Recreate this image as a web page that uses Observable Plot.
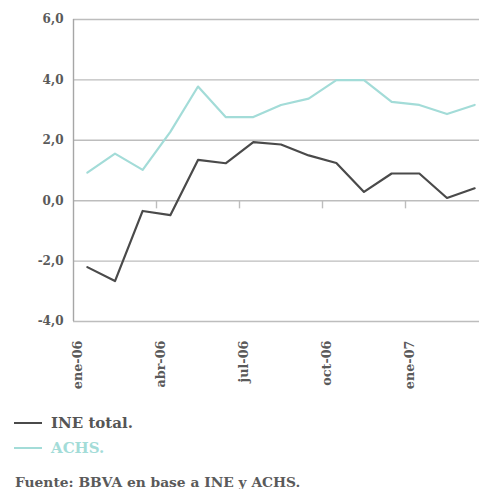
<!DOCTYPE html>
<html><head><meta charset="utf-8">
<script src="https://cdn.jsdelivr.net/npm/d3@7"></script>
<script src="https://cdn.jsdelivr.net/npm/@observablehq/plot@0.6"></script>
<style>
html,body{margin:0;padding:0;background:#fff;}
body{width:479px;height:489px;overflow:hidden;position:relative;font-family:"DejaVu Serif",serif;}
#chart{position:absolute;left:0;top:0;}
.leg{position:absolute;left:14px;font-size:15px;font-weight:bold;line-height:18px;white-space:nowrap;}
.leg span.sw{display:inline-block;width:28px;height:2px;vertical-align:middle;margin-right:9px;position:relative;top:-1px;}
#cap{position:absolute;left:15px;top:473px;font-size:13.8px;font-weight:bold;color:#5a5a5a;white-space:nowrap;line-height:18px;}
</style></head><body>
<div id="chart"></div>
<div class="leg" id="l1" style="top:414px;color:#555"><span class="sw" style="background:#4a4a4a"></span>INE total.</div>
<div class="leg" id="l2" style="top:439px;color:#a3dcd8"><span class="sw" style="background:#a3dcd8"></span>ACHS.</div>
<div id="cap">Fuente: BBVA en base a INE y ACHS.</div>
<script>
const months = ["ene-06","feb-06","mar-06","abr-06","may-06","jun-06","jul-06","ago-06","sep-06","oct-06","nov-06","dic-06","ene-07","feb-07","mar-07"];
const ine  = [-2.2, -2.66, -0.34, -0.48, 1.35, 1.24, 1.94, 1.86, 1.50, 1.25, 0.29, 0.90, 0.90, 0.09, 0.41];
const achs = [0.93, 1.56, 1.02, 2.28, 3.78, 2.77, 2.77, 3.17, 3.38, 3.99, 3.99, 3.27, 3.17, 2.87, 3.17];
const yTicks = [-4, -2, 0, 2, 4, 6];
const xLabels = ["ene-06","abr-06","jul-06","oct-06","ene-07"];

const rows = [];
months.forEach((m, i) => {
  rows.push({i, serie: "INE total.", v: ine[i]});
  rows.push({i, serie: "ACHS.", v: achs[i]});
});
const boundaries = xLabels.map(l => months.indexOf(l) - 0.5);
const fmt = d => d.toFixed(1).replace(".", ",");

const chart = Plot.plot({
  width: 479,
  height: 395,
  marginLeft: 73,
  marginRight: 0,
  marginTop: 19,
  marginBottom: 74,
  style: {background: "transparent", overflow: "visible"},
  x: {type: "linear", domain: [-0.5, 14.5], range: [73, 488], axis: null},
  y: {domain: [-4, 6], range: [321, 19], axis: null},
  color: {domain: ["INE total.", "ACHS."], range: ["#4a4a4a", "#a3dcd8"]},
  marks: [
    Plot.ruleY(yTicks, {stroke: "#bdbdbd", strokeWidth: 1.4}),
    Plot.ruleX([-0.5], {y1: -4, y2: 6, stroke: "#a6a6a6", strokeWidth: 1.4}),
    Plot.ruleX(boundaries.slice(1), {y1: 0, y2: -0.27, stroke: "#bdbdbd", strokeWidth: 1.4}),
    Plot.text(yTicks, {x: -0.5, y: d => d, text: fmt, textAnchor: "end", dx: -10, fontSize: 12, fontWeight: "bold", fill: "#5a5a5a", fontFamily: "DejaVu Serif"}),
    Plot.text(xLabels, {x: (d, k) => boundaries[k], y: -4, text: d => d, rotate: -90, textAnchor: "end", dy: 19, dx: 4, fontSize: 12.8, fontWeight: "bold", fill: "#5a5a5a", fontFamily: "DejaVu Serif"}),
    Plot.line(rows, {x: "i", y: "v", stroke: "serie", z: "serie", strokeWidth: 2.2})
  ]
});
document.getElementById("chart").appendChild(chart);
</script>
</body></html>
